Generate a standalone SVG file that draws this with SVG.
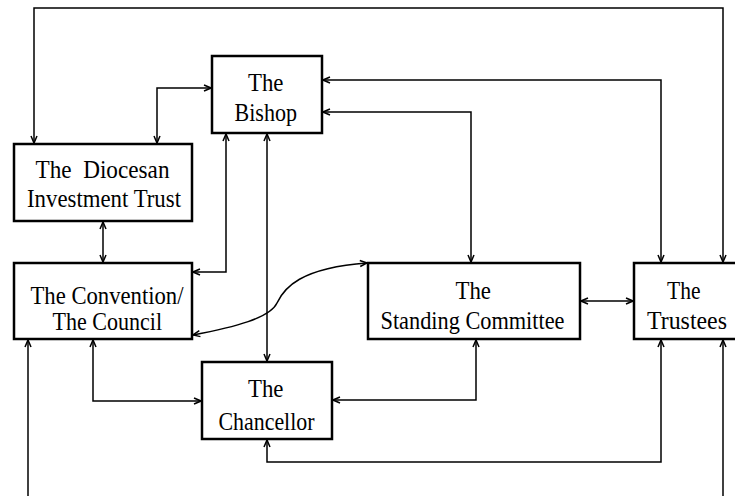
<svg xmlns="http://www.w3.org/2000/svg" width="735" height="496" viewBox="0 0 735 496">
<style>
.box{fill:#fff;stroke:#000;stroke-width:2.5}
.lbl{font-family:"Liberation Serif","Times New Roman",serif;font-size:25px;fill:#000}
.c{fill:none;stroke:#000;stroke-width:1.5}
.d{marker-start:url(#ah);marker-end:url(#ah)}
.u{marker-start:url(#ah)}
</style>
<defs>
<marker id="ah" markerUnits="userSpaceOnUse" markerWidth="10" markerHeight="10" viewBox="0 0 10 10" refX="9" refY="5" orient="auto-start-reverse">
<path d="M2,2 L9,5 L2,8" fill="none" stroke="#000" stroke-width="1.5"/>
</marker>
</defs>
<rect width="735" height="496" fill="#fff"/>
<g id="connectors">
<path class="c d" d="M34,143 V8 H723 V262"/>
<path class="c d" d="M211,88 H157 V143"/>
<path class="c d" d="M103,222 V262"/>
<path class="c d" d="M226,134 V272 H193"/>
<path class="c d" d="M267,134 V361"/>
<path class="c d" d="M323,80 H661 V262"/>
<path class="c d" d="M323,112 H471 V262"/>
<path class="c d" d="M581,301 H633"/>
<path class="c d" d="M193,335 C235,327 270,318 277,303 C284,288 300,268 367,263"/>
<path class="c d" d="M93,340 V401 H201"/>
<path class="c d" d="M476,340 V400 H333"/>
<path class="c d" d="M267,440 V462 H661 V340"/>
<path class="c u" d="M28,340 V496"/>
<path class="c u" d="M723,340 V496"/>
</g>
<g id="bishop">
<rect class="box" x="212" y="56" width="110" height="77"/>
<text class="lbl" x="248" y="91" textLength="35.5" lengthAdjust="spacingAndGlyphs">The</text>
<text class="lbl" x="234.5" y="121" textLength="62.5" lengthAdjust="spacingAndGlyphs">Bishop</text>
</g>
<g id="diocesan-investment-trust">
<rect class="box" x="14" y="144" width="178" height="77"/>
<text class="lbl" x="35.5" y="177.5" textLength="134" lengthAdjust="spacingAndGlyphs" xml:space="preserve">The  Diocesan</text>
<text class="lbl" x="27" y="207" textLength="154" lengthAdjust="spacingAndGlyphs">Investment Trust</text>
</g>
<g id="convention-council">
<rect class="box" x="14" y="263" width="178" height="76"/>
<text class="lbl" x="30.5" y="303.5" textLength="153" lengthAdjust="spacingAndGlyphs">The Convention/</text>
<text class="lbl" x="52.5" y="329.5" textLength="109.5" lengthAdjust="spacingAndGlyphs">The Council</text>
</g>
<g id="chancellor">
<rect class="box" x="202" y="362" width="130" height="77"/>
<text class="lbl" x="248" y="397" textLength="35.5" lengthAdjust="spacingAndGlyphs">The</text>
<text class="lbl" x="218.5" y="429.5" textLength="96" lengthAdjust="spacingAndGlyphs">Chancellor</text>
</g>
<g id="standing-committee">
<rect class="box" x="368" y="263" width="212" height="76"/>
<text class="lbl" x="455.5" y="298.5" textLength="35.5" lengthAdjust="spacingAndGlyphs">The</text>
<text class="lbl" x="380.5" y="328.5" textLength="184" lengthAdjust="spacingAndGlyphs">Standing Committee</text>
</g>
<g id="trustees">
<rect class="box" x="634" y="263" width="110" height="76"/>
<text class="lbl" x="667" y="298.5" textLength="33.5" lengthAdjust="spacingAndGlyphs">The</text>
<text class="lbl" x="647" y="329" textLength="80" lengthAdjust="spacingAndGlyphs">Trustees</text>
</g>
</svg>
